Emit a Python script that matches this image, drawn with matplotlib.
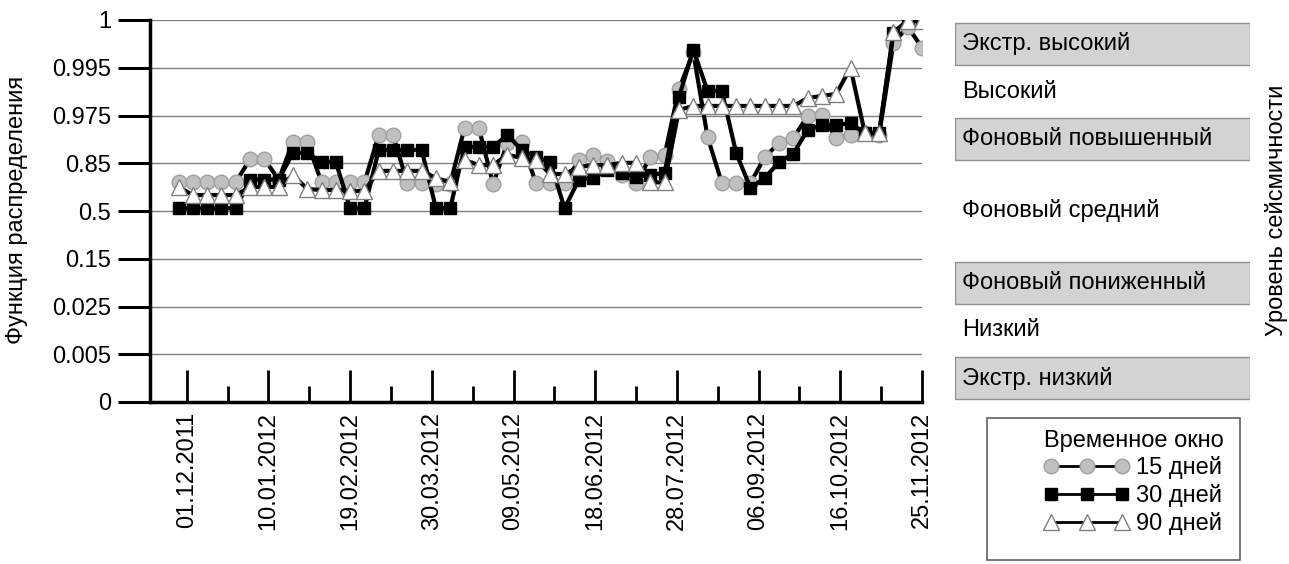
import numpy as np
import pandas as pd
import matplotlib
matplotlib.use("Agg")
import matplotlib.pyplot as plt
import matplotlib.dates as mdates
from matplotlib.patches import Rectangle

plt.rcParams['font.family'] = ['Liberation Sans', 'DejaVu Sans']

# ---------------- data ----------------
levels = [0, 0.005, 0.025, 0.15, 0.5, 0.85, 0.975, 0.995, 1]
level_labels = ['0', '0.005', '0.025', '0.15', '0.5', '0.85', '0.975', '0.995', '1']

dates = pd.date_range('2011-11-27', periods=53, freq='7D')

w15 = [0.71, 0.71, 0.71, 0.71, 0.71, 0.861, 0.861, 0.73, 0.906, 0.906,
       0.71, 0.71, 0.71, 0.71, 0.924, 0.924, 0.705, 0.705, 0.70, 0.70,
       0.942, 0.942, 0.70, 0.903, 0.906, 0.705, 0.705, 0.705, 0.858, 0.872,
       0.855, 0.764, 0.705, 0.866, 0.872, 0.9861, 0.9966, 0.919, 0.705, 0.705,
       0.705, 0.866, 0.903, 0.916, 0.974, 0.9752, 0.916, 0.924, 0.929, 0.924,
       0.9976, 0.9993, 0.9971]

w30 = [0.52, 0.52, 0.52, 0.52, 0.52, 0.73, 0.73, 0.73, 0.877, 0.877,
       0.853, 0.853, 0.52, 0.52, 0.885, 0.885, 0.885, 0.885, 0.52, 0.52,
       0.893, 0.893, 0.893, 0.924, 0.885, 0.866, 0.853, 0.52, 0.73, 0.742,
       0.801, 0.779, 0.75, 0.764, 0.779, 0.9827, 0.9969, 0.9853, 0.9853, 0.877,
       0.669, 0.742, 0.853, 0.875, 0.937, 0.95, 0.95, 0.955, 0.929, 0.929,
       0.9986, 1.0, 1.0]

w90 = [0.676, 0.617, 0.617, 0.617, 0.617, 0.676, 0.676, 0.676, 0.764, 0.661,
       0.654, 0.654, 0.647, 0.647, 0.794, 0.794, 0.794, 0.794, 0.742, 0.71,
       0.858, 0.837, 0.837, 0.872, 0.864, 0.858, 0.771, 0.771, 0.822, 0.837,
       0.837, 0.851, 0.851, 0.71, 0.71, 0.9773, 0.979, 0.979, 0.979, 0.979,
       0.979, 0.979, 0.979, 0.979, 0.9823, 0.9832, 0.984, 0.995, 0.929, 0.929,
       0.9987, 0.9999, 0.9999]

bands = [  # (low, high, label, shaded)
    (0.995, 1.0, 'Экстр. высокий', True),
    (0.975, 0.995, 'Высокий', False),
    (0.85, 0.975, 'Фоновый повышенный', True),
    (0.15, 0.85, 'Фоновый средний', False),
    (0.025, 0.15, 'Фоновый пониженный', True),
    (0.005, 0.025, 'Низкий', False),
    (0.0, 0.005, 'Экстр. низкий', True),
]

series_labels = ['15 дней', '30 дней', '90 дней']

# --------------- figure ---------------
W, H = 1289, 564
fig = plt.figure(figsize=(W / 100, H / 100), dpi=100)

def fx(px):
    return px / W

def fy(py):
    return 1 - py / H

idx = np.arange(len(levels), dtype=float)

def fwd(p):
    return np.interp(p, levels, idx)

def inv(i):
    return np.interp(i, idx, levels)

ax_left, ax_right, ax_top, ax_bot = 150, 922, 20, 402
ax = fig.add_axes([fx(ax_left), fy(ax_bot), fx(ax_right - ax_left), (ax_bot - ax_top) / H])
ax.set_yscale('function', functions=(fwd, inv))
ax.set_ylim(0, 1)
ax.set_xlim(pd.Timestamp('2011-11-13'), pd.Timestamp('2012-11-25'))

fs = 17

ax.set_yticks(levels)
ax.set_yticklabels(level_labels, fontsize=fs)
ax.yaxis.set_minor_locator(matplotlib.ticker.NullLocator())
ax.tick_params(axis='y', direction='out', length=23, width=2.2, pad=5)
for lv in levels[1:]:
    ax.axhline(lv, color='#808080', lw=1.0, zorder=1)

major = pd.date_range('2011-12-01', periods=10, freq='40D')
minor = pd.date_range('2011-12-21', periods=9, freq='40D')
ax.set_xticks(major)
ax.set_xticks(minor, minor=True)
ax.xaxis.set_major_formatter(mdates.DateFormatter('%d.%m.%Y'))
ax.tick_params(axis='x', which='major', direction='in', length=23, width=2, pad=7,
               labelsize=fs, labelrotation=90)
ax.tick_params(axis='x', which='minor', direction='in', length=11.5, width=2)

for s in ['top', 'right']:
    ax.spines[s].set_visible(False)
for s in ['left', 'bottom']:
    ax.spines[s].set_linewidth(2.5)

lw = 3
ax.plot(dates, w15, color='black', lw=lw, marker='o', ms=10.5,
        mfc='#c0c0c0', mec='#a0a0a0', mew=1, zorder=3, label=series_labels[0])
ax.plot(dates, w30, color='black', lw=lw, marker='s', ms=9,
        mfc='black', mec='black', zorder=4, label=series_labels[1])
ax.plot(dates, w90, color='black', lw=lw, marker='^', ms=12,
        mfc='white', mec='#808080', mew=1, zorder=5, label=series_labels[2])

# right side category axis
bx_left, bx_right = 955, 1250
ax2 = fig.add_axes([fx(bx_left), fy(ax_bot), fx(bx_right - bx_left), (ax_bot - ax_top) / H])
ax2.set_yscale('function', functions=(fwd, inv))
ax2.set_ylim(0, 1)
ax2.set_xlim(0, 1)
ax2.axis('off')
for lo, hi, name, shaded in bands:
    i_lo, i_hi = fwd(lo), fwd(hi)
    if shaded:
        ax2.axhspan(inv(i_lo + 0.06), inv(i_hi - 0.06), xmin=0, xmax=1,
                    facecolor='#d3d3d3', edgecolor='#909090', lw=1)
    ax2.text(0.025, inv((i_lo + i_hi) / 2), name, fontsize=fs, va='center', ha='left')

fig.text(fx(1276), fy(210), 'Уровень сейсмичности', rotation=90, fontsize=fs,
         va='center', ha='center')
fig.text(fx(17), fy(210), 'Функция распределения', rotation=90, fontsize=fs,
         va='center', ha='center')

# legend frame drawn separately
fig.patches.append(Rectangle((fx(987), fy(560)), fx(1240 - 987), (560 - 418) / H,
                             transform=fig.transFigure, facecolor='white',
                             edgecolor='#606060', lw=1.2, zorder=0))

handles, labels = ax.get_legend_handles_labels()
leg = fig.legend(handles, labels, loc='upper right',
                 bbox_to_anchor=(fx(1228), fy(425)), bbox_transform=fig.transFigure,
                 title='Временное окно', fontsize=fs, title_fontsize=fs,
                 numpoints=3, handlelength=3.6, handletextpad=0.3,
                 frameon=False, borderaxespad=0, labelspacing=0.2,
                 borderpad=0.2)
for line in leg.get_lines():
    line.set_linewidth(2)

fig.savefig('out.png', dpi=100)
